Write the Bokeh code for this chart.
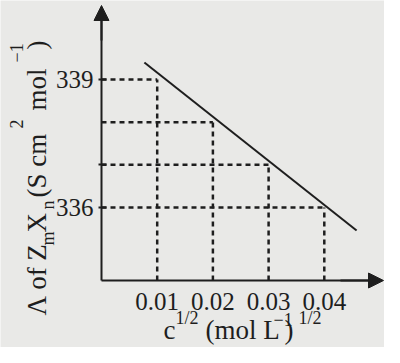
import math
from bokeh.plotting import figure
from bokeh.models import Range1d, FixedTicker, Label, Arrow, NormalHead
from bokeh.embed import file_html
from bokeh.resources import INLINE

# ---- data ----
conc_root = [0.01, 0.02, 0.03, 0.04]          # c^1/2 (mol L^-1)^1/2
molar_cond = [339, 338, 337, 336]             # Λ (S cm^2 mol^-1)
fit_x = [0.0077, 0.0458]                      # drawn straight line
fit_y = [339.40, 335.46]
x_tick_values = [0.01, 0.02, 0.03, 0.04]
x_tick_labels = ["0.01", "0.02", "0.03", "0.04"]
y_tick_values = [336, 337, 339]
y_tick_labels = {336: "336", 337: "", 339: "339"}

W, H = 384, 347

# ---- layout helpers (canvas pixel -> data) ----
def dx(px):
    return (px - 101) / 5570.0

def dy(py):
    return 336 - (py - 207) / 42.67

X_AX = 0.0          # where the vertical axis sits
Y_AX = dy(280)      # where the horizontal axis sits

INK = "#1e1e1e"
BG = "#e9e9e7"
FONT = "Liberation Serif"

p = figure(width=W, height=H, output_backend="svg", toolbar_location=None,
           x_range=Range1d(dx(0), dx(W)), y_range=Range1d(dy(H), dy(0)),
           min_border_left=0, min_border_bottom=0, min_border_top=0,
           min_border_right=0)
p.background_fill_color = BG
p.border_fill_color = BG
p.outline_line_color = None
p.grid.visible = False

for ax in (p.xaxis, p.yaxis):
    ax.axis_line_width = 2
    ax.axis_line_color = INK
    ax.major_tick_line_color = INK
    ax.major_tick_line_width = 2
    ax.minor_tick_line_color = None
    ax.major_label_text_font = FONT
    ax.major_label_text_font_size = "25px"
    ax.major_label_text_color = INK

p.xaxis.fixed_location = Y_AX
p.xaxis.ticker = FixedTicker(ticks=x_tick_values)
p.xaxis.major_label_overrides = {v: s for v, s in zip(x_tick_values, x_tick_labels)}
p.xaxis.major_tick_in = 0
p.xaxis.major_tick_out = 0
p.xaxis.major_label_standoff = 12
p.xaxis.bounds = (X_AX, dx(380))

p.yaxis.fixed_location = X_AX
p.yaxis.ticker = FixedTicker(ticks=y_tick_values)
p.yaxis.major_label_overrides = y_tick_labels
p.yaxis.major_tick_in = 5
p.yaxis.major_tick_out = 3
p.yaxis.major_label_standoff = 5
p.yaxis.bounds = (Y_AX, dy(8))

# dashed guide lines
n = len(conc_root)
p.segment(x0=[X_AX] * n, y0=molar_cond, x1=conc_root, y1=molar_cond,
          line_color=INK, line_width=2.5, line_dash="5 4")
p.segment(x0=conc_root, y0=[Y_AX] * n, x1=conc_root, y1=molar_cond,
          line_color=INK, line_width=2.5, line_dash="5 4")

# fitted line
p.line(fit_x, fit_y, line_color=INK, line_width=2)

# arrow heads on axes
p.add_layout(Arrow(end=NormalHead(size=15, fill_color=INK, line_color=INK),
                   x_start=X_AX, y_start=dy(40), x_end=X_AX, y_end=dy(5),
                   line_color=INK, line_width=2))
p.add_layout(Arrow(end=NormalHead(size=15, fill_color=INK, line_color=INK),
                   x_start=dx(340), y_start=Y_AX, x_end=dx(383), y_end=Y_AX,
                   line_color=INK, line_width=2))

def lab(text, px, py, size, angle=0.0):
    p.add_layout(Label(x=dx(px), y=dy(py), text=text, angle=angle,
                       text_font=FONT, text_font_size=size, text_color=INK,
                       text_align="left", text_baseline="alphabetic"))

# y axis title pieces (rotated, reading upwards)
R = math.pi / 2
lab("Λ of Z", 36, 315, "27px", R)
lab("m", 47, 245, "18px", R)
lab("X", 36, 232, "27px", R)
lab("n", 47, 209, "18px", R)
lab("(S cm", 36, 197, "27px", R)
lab("2", 16, 128, "18px", R)
lab("mol", 36, 110, "27px", R)
lab("−1", 16, 62, "18px", R)
lab(")", 36, 49, "27px", R)

# x axis title pieces
B = 329
lab("c", 163, B, "27px")
lab("1/2", 175, B - 12, "18px")
lab("(mol L", 205, B, "27px")
lab("−1", 273, B - 10, "18px")
lab(")", 284, B, "27px")
lab("1/2", 298, B - 12, "18px")

open("out.html", "w").write(file_html(p, INLINE))
